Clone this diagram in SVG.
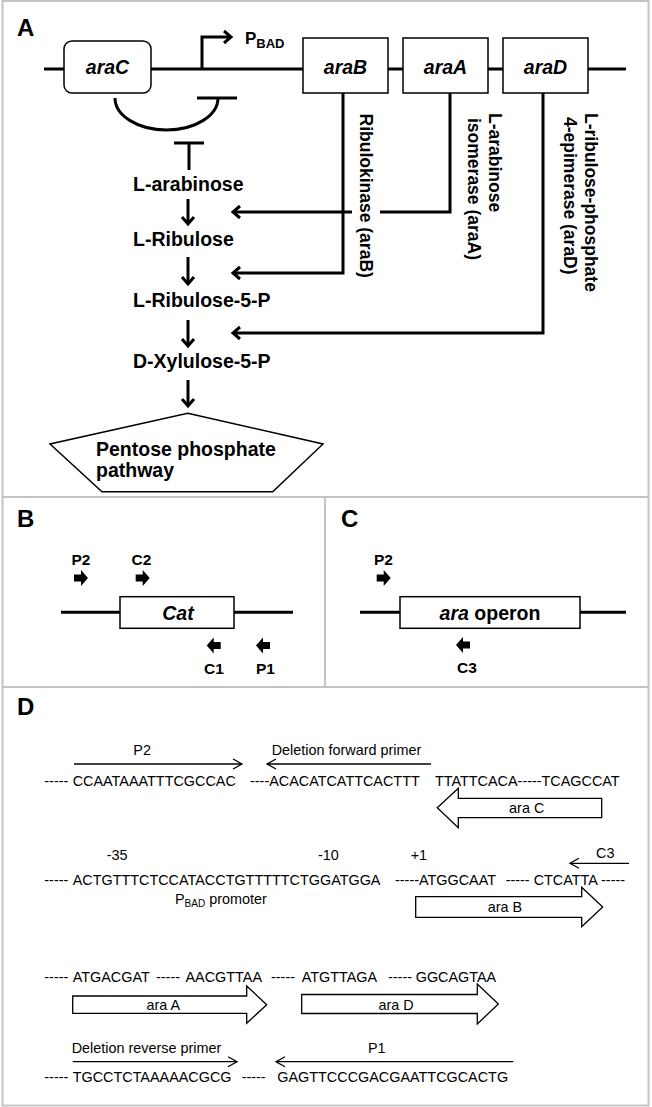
<svg xmlns="http://www.w3.org/2000/svg" width="652" height="1107" viewBox="0 0 652 1107">
<style>
.b{font-family:"Liberation Sans",Arial,sans-serif;font-weight:bold;fill:#000}
.lab{font-size:24px}
.path{font-size:19.5px}
.gene{font-size:19.5px;font-style:italic;text-anchor:middle}
.rot{font-size:17.5px}
.pr{font-size:15.5px}
.s{font-family:"Liberation Sans",Arial,sans-serif;font-size:14.4px;fill:#000}
.frame{fill:none;stroke:#c4c4c4;stroke-width:2}
.box{fill:#fff;stroke:#000;stroke-width:1.5}
.thick{fill:none;stroke:#000;stroke-width:3}
.thin{fill:none;stroke:#000;stroke-width:1.3}
.blk{fill:#fff;stroke:#000;stroke-width:1.3}
</style>
<defs>
<marker id="ah" markerUnits="userSpaceOnUse" markerWidth="16" markerHeight="16" refX="12" refY="8" orient="auto" viewBox="0 0 16 16">
<path d="M5,2 L12,8 L5,14" fill="none" stroke="#000" stroke-width="3"/>
</marker>
<marker id="ahs" markerUnits="userSpaceOnUse" markerWidth="14" markerHeight="14" refX="11" refY="7" orient="auto" viewBox="0 0 14 14">
<path d="M2,2 L11,7 L2,12" fill="none" stroke="#000" stroke-width="1.3"/>
</marker>
<path id="bar" d="M0,-3.5 L7,-3.5 L7,-8 L14,0 L7,8 L7,3.5 L0,3.5 Z" fill="#000"/>
</defs>
<rect id="background" x="0" y="0" width="652" height="1107" fill="#fff"/>
<g id="frames">
<rect class="frame" x="2.5" y="1" width="646" height="1104.5"/>
<line class="frame" x1="2.5" y1="497" x2="648.5" y2="497"/>
<line class="frame" x1="2.5" y1="687" x2="648.5" y2="687"/>
<line class="frame" x1="325" y1="497" x2="325" y2="687"/>
</g>
<g id="panel-labels">
<text class="b lab" x="17" y="36">A</text>
<text class="b lab" x="17" y="527">B</text>
<text class="b lab" x="341" y="527">C</text>
<text class="b lab" x="17" y="715">D</text>
</g>
<g id="connectors">
<line class="thick" x1="44" y1="69" x2="626" y2="69"/>
<path class="thick" d="M202,69 L202,37 L231,37" marker-end="url(#ah)"/>
<path class="thick" d="M115,98 A51.5,32 0 0 0 218,98"/>
<line class="thick" x1="197" y1="98" x2="237" y2="98"/>
<line class="thick" x1="174" y1="143" x2="204" y2="143"/>
<line class="thick" x1="189" y1="143" x2="189" y2="170"/>
<line class="thick" x1="188" y1="199" x2="188" y2="224" marker-end="url(#ah)"/>
<line class="thick" x1="188" y1="257" x2="188" y2="284" marker-end="url(#ah)"/>
<line class="thick" x1="188" y1="320" x2="188" y2="346" marker-end="url(#ah)"/>
<line class="thick" x1="188" y1="380" x2="188" y2="406" marker-end="url(#ah)"/>
<path class="thick" d="M450,93 L450,212 L380,212"/>
<line class="thick" x1="352" y1="212" x2="233" y2="212" marker-end="url(#ah)"/>
<path class="thick" d="M343,93 L343,273 L233,273" marker-end="url(#ah)"/>
<path class="thick" d="M543,93 L543,333 L233,333" marker-end="url(#ah)"/>
<line class="thick" x1="61" y1="612.3" x2="293" y2="612.3"/>
<line class="thick" x1="360" y1="612.3" x2="626" y2="612.3"/>
<line class="thin" x1="74" y1="764" x2="242" y2="764" marker-end="url(#ahs)"/>
<line class="thin" x1="431" y1="764" x2="267" y2="764" marker-end="url(#ahs)"/>
<line class="thin" x1="629" y1="863.3" x2="570" y2="863.3" marker-end="url(#ahs)"/>
<line class="thin" x1="72.7" y1="1061.7" x2="237" y2="1061.7" marker-end="url(#ahs)"/>
<line class="thin" x1="513.3" y1="1061.7" x2="276" y2="1061.7" marker-end="url(#ahs)"/>
</g>
<g id="araC">
<rect class="box" x="64" y="41" width="87" height="52" rx="8"/>
<text class="b gene" x="107.5" y="73.5">araC</text>
</g>
<g id="promoter">
<text class="b" x="245" y="43.5" font-size="17">P<tspan font-size="13" dy="4.5">BAD</tspan></text>
</g>
<g id="araB">
<rect class="box" x="303" y="38" width="85" height="55"/>
<text class="b gene" x="345.5" y="73.5">araB</text>
</g>
<g id="araA">
<rect class="box" x="403" y="38" width="85" height="55"/>
<text class="b gene" x="445.5" y="73.5">araA</text>
</g>
<g id="araD">
<rect class="box" x="503" y="38" width="85" height="55"/>
<text class="b gene" x="545.5" y="73.5">araD</text>
</g>
<g id="enzyme-labels">
<text class="b rot" transform="translate(360,113.5) rotate(90)">Ribulokinase (araB)</text>
<text class="b rot" transform="translate(489,113) rotate(90)">L-arabinose</text>
<text class="b rot" transform="translate(467.5,118) rotate(90)">isomerase (araA)</text>
<text class="b rot" transform="translate(584.5,113) rotate(90)">L-ribulose-phosphate</text>
<text class="b rot" transform="translate(564,117) rotate(90)">4-epimerase (araD)</text>
</g>
<g id="L-arabinose"><text class="b path" x="133" y="191">L-arabinose</text></g>
<g id="L-Ribulose"><text class="b path" x="133" y="246">L-Ribulose</text></g>
<g id="L-Ribulose-5-P"><text class="b path" x="133" y="307">L-Ribulose-5-P</text></g>
<g id="D-Xylulose-5-P"><text class="b path" x="133" y="368">D-Xylulose-5-P</text></g>
<g id="pentose">
<polygon points="187.7,413.3 323,444 272.7,491.7 102,491.7 50,444" fill="#fff" stroke="#000" stroke-width="1.5"/>
<text class="b path" x="96" y="456">Pentose phosphate</text>
<text class="b path" x="96" y="477">pathway</text>
</g>
<g id="panelB">
<text class="b pr" x="71.5" y="565">P2</text>
<text class="b pr" x="131.5" y="565">C2</text>
<use href="#bar" x="74" y="578"/>
<use href="#bar" x="135.7" y="578"/>
<rect class="box" x="120" y="596.7" width="114" height="31.6"/>
<text class="b gene" x="178" y="619.5">Cat</text>
<use href="#bar" transform="translate(220.7,645.5) scale(-1,1)"/>
<use href="#bar" transform="translate(270,645.5) scale(-1,1)"/>
<text class="b pr" x="204" y="674">C1</text>
<text class="b pr" x="256" y="674">P1</text>
</g>
<g id="panelC">
<text class="b pr" x="374" y="565">P2</text>
<use href="#bar" x="376.7" y="578"/>
<rect class="box" x="400" y="596.7" width="180" height="31.6"/>
<text class="b" x="490" y="619.5" font-size="19.5" text-anchor="middle"><tspan font-style="italic">ara</tspan> operon</text>
<use href="#bar" transform="translate(470,645) scale(-1,1)"/>
<text class="b pr" x="457" y="672.7">C3</text>
</g>
<g id="panelD-row1">
<text class="s" x="133.3" y="755">P2</text>
<text class="s" x="271.7" y="755">Deletion forward primer</text>
<text class="s" x="44.3" y="786">-----</text>
<text class="s" x="72.7" y="786">CCAATAAATTTCGCCAC</text>
<text class="s" x="250" y="786">----ACACATCATTCACTTT</text>
<text class="s" x="435" y="786">TTATTCACA-----TCAGCCAT</text>
<path class="blk" d="M437.3,807.7 L458.3,788.3 L458.3,798.3 L601.7,798.3 L601.7,817.7 L458.3,817.7 L458.3,827.7 Z"/>
<text class="s" x="526.7" y="813" text-anchor="middle">ara C</text>
</g>
<g id="panelD-row2">
<text class="s" x="106.7" y="860">-35</text>
<text class="s" x="318" y="860">-10</text>
<text class="s" x="410.7" y="860">+1</text>
<text class="s" x="596" y="858">C3</text>
<text class="s" x="44.3" y="885">-----</text>
<text class="s" x="72.7" y="885">ACTGTTTCTCCATACCTGTTTTTCTGGATGGA</text>
<text class="s" x="395" y="885">-----ATGGCAAT</text>
<text class="s" x="505.7" y="885">----- CTCATTA -----</text>
<text class="s" x="175" y="904">P<tspan font-size="10" dy="3">BAD</tspan><tspan dy="-3"> promoter</tspan></text>
<path class="blk" d="M415.7,896.7 L581.7,896.7 L581.7,887.3 L602.7,907 L581.7,926.7 L581.7,917.3 L415.7,917.3 Z"/>
<text class="s" x="505" y="912" text-anchor="middle">ara B</text>
</g>
<g id="panelD-row3">
<text class="s" x="44.3" y="981.7">-----</text>
<text class="s" x="72.7" y="981.7">ATGACGAT</text>
<text class="s" x="156" y="981.7">-----</text>
<text class="s" x="185.5" y="981.7">AACGTTAA</text>
<text class="s" x="271" y="981.7">-----</text>
<text class="s" x="301.7" y="981.7">ATGTTAGA</text>
<text class="s" x="388" y="981.7">-----</text>
<text class="s" x="415.7" y="981.7">GGCAGTAA</text>
<path class="blk" d="M72.7,996 L246.7,996 L246.7,986 L266.7,1004.7 L246.7,1023.3 L246.7,1013.3 L72.7,1013.3 Z"/>
<text class="s" x="163.3" y="1009.5" text-anchor="middle">ara A</text>
<path class="blk" d="M301.7,994.5 L477.3,994.5 L477.3,984 L498.3,1004 L477.3,1024 L477.3,1013.5 L301.7,1013.5 Z"/>
<text class="s" x="396" y="1009.5" text-anchor="middle">ara D</text>
</g>
<g id="panelD-row4">
<text class="s" x="71.7" y="1053.3">Deletion reverse primer</text>
<text class="s" x="368" y="1053.3">P1</text>
<text class="s" x="44.3" y="1081.7">-----</text>
<text class="s" x="72.7" y="1081.7">TGCCTCTAAAAACGCG</text>
<text class="s" x="241.7" y="1081.7">-----</text>
<text class="s" x="277.3" y="1081.7">GAGTTCCCGACGAATTCGCACTG</text>
</g>
</svg>
